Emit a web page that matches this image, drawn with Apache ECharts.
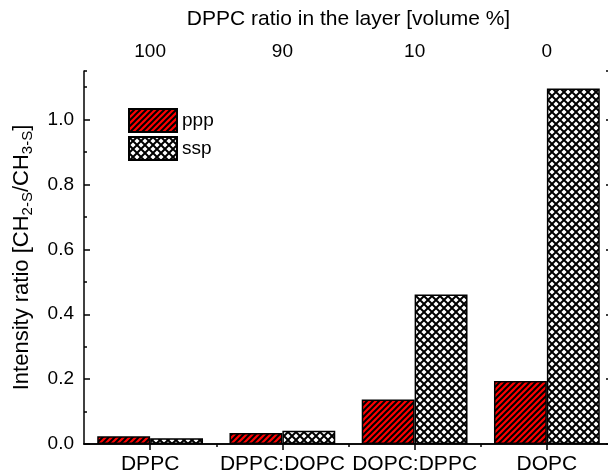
<!DOCTYPE html>
<html>
<head>
<meta charset="utf-8">
<script src="https://cdn.jsdelivr.net/npm/echarts@6/dist/echarts.min.js"></script>
<style>
  html, body { margin: 0; padding: 0; background: #fff; }
  #chart { width: 608px; height: 472px; }
</style>
</head>
<body>
<div id="chart"></div>
<script>
// Lipid mixtures on the bottom axis, DPPC volume share on the top axis
const categories = ['DPPC', 'DPPC:DOPC', 'DOPC:DPPC', 'DOPC'];
const ratioLabels = ['100', '90', '10', '0'];
const seriesNames = ['ppp', 'ssp'];
const pppValues = [0.024, 0.034, 0.137, 0.194];
const sspValues = [0.018, 0.041, 0.461, 1.096];

// Red fill with black "/" hatching
function stripePattern() {
  const s = 6;
  const c = document.createElement('canvas');
  c.width = s; c.height = s;
  const g = c.getContext('2d');
  g.fillStyle = '#ff0000';
  g.fillRect(0, 0, s, s);
  g.strokeStyle = '#000';
  g.lineWidth = 2;
  g.beginPath();
  g.moveTo(-1, s + 1); g.lineTo(s + 1, -1);
  g.moveTo(-1, 1); g.lineTo(1, -1);
  g.moveTo(s - 1, s + 1); g.lineTo(s + 1, s - 1);
  g.stroke();
  return { image: c, repeat: 'repeat' };
}

// White fill with black diagonal cross-hatching
function crossPattern() {
  const s = 8;
  const c = document.createElement('canvas');
  c.width = s; c.height = s;
  const g = c.getContext('2d');
  g.fillStyle = '#fff';
  g.fillRect(0, 0, s, s);
  g.strokeStyle = '#000';
  g.lineWidth = 2;
  g.beginPath();
  g.moveTo(-1, -1); g.lineTo(s + 1, s + 1);
  g.moveTo(-1, s + 1); g.lineTo(s + 1, -1);
  g.stroke();
  return { image: c, repeat: 'repeat' };
}

const FONT = 'Liberation Sans, Arial, sans-serif';
const axisLine = { show: true, lineStyle: { color: '#000', width: 1.5 } };

const chart = echarts.init(document.getElementById('chart'), null, { renderer: 'canvas' });

chart.setOption({
  backgroundColor: '#fff',
  animation: false,
  textStyle: { fontFamily: FONT, color: '#000' },
  grid: { left: 84, top: 71, width: 529, height: 373, containLabel: false, outerBoundsMode: 'none' },
  legend: {
    data: seriesNames,
    orient: 'vertical',
    left: 123,
    top: 103,
    itemWidth: 48,
    itemHeight: 23,
    itemGap: 3,
    icon: 'rect',
    textStyle: { fontSize: 19, color: '#000', fontFamily: FONT }
  },
  xAxis: [
    {
      type: 'category',
      position: 'bottom',
      data: categories,
      axisLine: axisLine,
      axisTick: { show: true, alignWithLabel: true, inside: false, length: 6, lineStyle: { color: '#000', width: 1.5 } },
      axisLabel: { interval: 0, fontSize: 21, color: '#000', margin: 10, fontFamily: FONT },
      splitLine: { show: false }
    },
    {
      // short ticks on the category boundaries
      type: 'category',
      position: 'bottom',
      data: categories,
      axisLine: { show: false },
      axisTick: { show: true, inside: false, length: 3, interval: i => i !== 0, lineStyle: { color: '#000', width: 1.5 } },
      axisLabel: { show: false },
      splitLine: { show: false }
    },
    {
      type: 'category',
      position: 'top',
      data: ratioLabels,
      axisLine: axisLine,
      axisTick: { show: true, alignWithLabel: true, inside: true, length: 6, lineStyle: { color: '#000', width: 1.5 } },
      axisLabel: { interval: 0, fontSize: 19, color: '#000', margin: 10, fontFamily: FONT },
      name: 'DPPC ratio in the layer [volume %]',
      nameLocation: 'middle',
      nameGap: 41,
      nameTextStyle: { fontSize: 21, color: '#000', fontFamily: FONT },
      splitLine: { show: false }
    }
  ],
  yAxis: [
    {
      type: 'value',
      position: 'left',
      min: 0,
      max: 1.15,
      interval: 0.2,
      axisLine: axisLine,
      axisTick: { show: true, inside: true, length: 6, lineStyle: { color: '#000', width: 1.5 } },
      axisLabel: {
        fontSize: 19, color: '#000', margin: 10, fontFamily: FONT,
        showMaxLabel: false,
        formatter: v => v.toFixed(1)
      },
      splitLine: { show: false },
      name: '{t|Intensity ratio [CH}{s|2-S}{t|/CH}{s|3-S}{t|]}',
      nameLocation: 'middle',
      nameGap: 49,
      nameTextStyle: {
        rich: {
          t: { fontSize: 22, color: '#000', fontFamily: FONT, lineHeight: 26, verticalAlign: 'middle' },
          s: { fontSize: 15, color: '#000', fontFamily: FONT, lineHeight: 14, verticalAlign: 'bottom' }
        }
      }
    },
    {
      // minor ticks every 0.1
      type: 'value',
      position: 'left',
      min: 0,
      max: 1.15,
      interval: 0.1,
      axisLine: { show: false },
      axisTick: { show: true, inside: true, length: 3, lineStyle: { color: '#000', width: 1.5 } },
      axisLabel: { show: false },
      splitLine: { show: false }
    },
    {
      type: 'value',
      position: 'right',
      min: 0,
      max: 1.15,
      interval: 0.2,
      axisLine: axisLine,
      axisTick: { show: true, inside: true, length: 7, lineStyle: { color: '#000', width: 1.5 } },
      axisLabel: { show: false },
      splitLine: { show: false }
    }
  ],
  series: [
    {
      name: seriesNames[0],
      type: 'bar',
      xAxisIndex: 0,
      yAxisIndex: 0,
      data: pppValues,
      barGap: '0%',
      barCategoryGap: '20%',
      itemStyle: { color: stripePattern(), borderColor: '#000', borderWidth: 1.5 }
    },
    {
      name: seriesNames[1],
      type: 'bar',
      xAxisIndex: 0,
      yAxisIndex: 0,
      data: sspValues,
      barGap: '0%',
      barCategoryGap: '20%',
      itemStyle: { color: crossPattern(), borderColor: '#000', borderWidth: 1.5 }
    }
  ]
});
</script>
</body>
</html>
